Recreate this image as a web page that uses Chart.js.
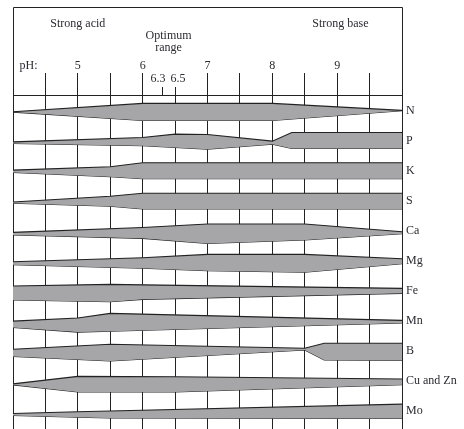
<!DOCTYPE html>
<html>
<head>
<meta charset="utf-8">
<script src="https://cdn.jsdelivr.net/npm/chart.js@4"></script>
<style>
  html, body { margin: 0; padding: 0; background: #fff; overflow: hidden; }
  #wrap { width: 464px; height: 429px; }
</style>
</head>
<body>
<div id="wrap"><canvas id="nutrientChart"></canvas></div>
<script>
// bands, top to bottom
const nutrients = ['N', 'P', 'K', 'S', 'Ca', 'Mg', 'Fe', 'Mn', 'B', 'Cu and Zn', 'Mo'];

// pH axis
const phLabels = [5, 6, 7, 8, 9];
const optimumTicks = [6.3, 6.5];

// for each band: pH break points, width above the band line, width below it
const nPH = [4, 6, 8, 10];
const nUp = [-1.2, 7.2, 7.2, 0.2];
const nDown = [1.5, 9.8, 9.8, 0.2];

const pPH = [4, 6, 6.5, 7, 8, 8.3, 10];
const pUp = [-1.2, 3.2, 6.5, 6.2, -0.5, 8.2, 8.2];
const pDown = [2.8, 5.1, 6.8, 8.5, 3.5, 7.8, 7.8];

const kPH = [4, 5.5, 6, 10];
const kUp = [0.6, 3.9, 7.9, 7.9];
const kDown = [1.7, 6.1, 8, 8];

const sPH = [4, 5.5, 6, 10];
const sUp = [-1.3, 4.5, 7.4, 7.4];
const sDown = [2.5, 5.5, 8.2, 8.2];

const caPH = [4, 6, 7, 8.5, 10];
const caUp = [-1.6, 3.2, 6.7, 6.7, -1];
const caDown = [4.3, 7.6, 12.6, 9.3, 3];

const mgPH = [4, 6, 7, 8.5, 10];
const mgUp = [-1, 3, 6.4, 6.4, 2];
const mgDown = [4, 7.5, 10, 11.5, 3];

const fePH = [4, 5.5, 6, 10];
const feUp = [4.8, 6.5, 6, 2.5];
const feDown = [9.2, 10.9, 8.5, 2.5];

const mnPH = [4, 5, 5.5, 10];
const mnUp = [-0.3, 2.8, 7.5, 0.5];
const mnDown = [6.5, 11.2, 10.3, 2.2];

const bPH = [4, 5.5, 8.5, 8.8, 10];
const bUp = [1.6, 6.6, 2.6, 7.6, 7.6];
const bDown = [5.5, 10.1, -0.9, 9, 9.5];

const cuznPH = [4, 5, 6.5, 10];
const cuznUp = [-2.9, 4.6, 4.2, 2];
const cuznDown = [3.9, 11, 11, 3.8];

const moPH = [4, 5, 5.5, 10];
const moUp = [-2.5, -0.7, 0, 6.8];
const moDown = [4.5, 6.2, 7, 7.5];

const bands = [
    [nPH, nUp, nDown], [pPH, pUp, pDown], [kPH, kUp, kDown], [sPH, sUp, sDown],
    [caPH, caUp, caDown], [mgPH, mgUp, mgDown], [fePH, feUp, feDown], [mnPH, mnUp, mnDown],
    [bPH, bUp, bDown], [cuznPH, cuznUp, cuznDown], [moPH, moUp, moDown]
];

const WIDTH_UNIT = 1 / 30;   // band width units per row
const INK = '#222222';
const TEXT = '#2a2a32';
const FILL = '#a6a6a9';
const FONT = '"Liberation Serif", "DejaVu Serif", serif';

let datasets = [];
bands.forEach(function (band, row) {
    const [ph, up, down] = band;
    datasets.push({
        data: ph.map((x, j) => ({ x: x, y: row - up[j] * WIDTH_UNIT })),
        borderColor: INK,
        borderWidth: 1.1,
        backgroundColor: FILL,
        pointRadius: 0,
        tension: 0,
        fill: '+1'
    });
    datasets.push({
        data: ph.map((x, j) => ({ x: x, y: row + down[j] * WIDTH_UNIT })),
        borderColor: INK,
        borderWidth: 1.1,
        pointRadius: 0,
        tension: 0,
        fill: false
    });
});

// frame, header text and the short 6.3 / 6.5 marks
const headerPlugin = {
    id: 'header',
    afterDraw(chart) {
        const ctx = chart.ctx;
        const x = chart.scales.x;
        const crisp = v => Math.round(v) + 0.5;
        const left = crisp(x.getPixelForValue(4));
        const right = crisp(x.getPixelForValue(10));
        const top = 7.5;
        const sep = chart.chartArea.top;

        ctx.save();
        ctx.strokeStyle = INK;
        ctx.lineWidth = 1;
        ctx.beginPath();
        ctx.moveTo(left, sep);
        ctx.lineTo(left, top);
        ctx.lineTo(right, top);
        ctx.lineTo(right, sep);
        optimumTicks.forEach(function (v) {
            const px = crisp(x.getPixelForValue(v));
            ctx.moveTo(px, sep - 8);
            ctx.lineTo(px, sep);
        });
        ctx.stroke();

        ctx.fillStyle = TEXT;
        ctx.font = '12px ' + FONT;
        ctx.textBaseline = 'middle';
        ctx.textAlign = 'center';
        ctx.fillText('Strong acid', x.getPixelForValue(5), 24);
        ctx.fillText('Strong base', x.getPixelForValue(9.05), 24);
        ctx.fillText('Optimum', x.getPixelForValue(6.4), 36);
        ctx.fillText('range', x.getPixelForValue(6.4), 48);
        ctx.fillText('6.3', x.getPixelForValue(6.3) - 4, 79);
        ctx.fillText('6.5', x.getPixelForValue(6.5) + 3, 79);
        ctx.textAlign = 'left';
        ctx.fillText('pH:', left + 6, 66);
        ctx.restore();
    }
};

new Chart(document.getElementById('nutrientChart'), {
    type: 'line',
    data: { datasets: datasets },
    options: {
        responsive: true,
        maintainAspectRatio: false,
        animation: false,
        layout: { padding: { left: 13, right: 0, top: 0, bottom: 0 } },
        plugins: {
            legend: { display: false },
            tooltip: { enabled: false }
        },
        scales: {
            x: {
                type: 'linear',
                position: 'top',
                min: 4,
                max: 10,
                z: 1,
                afterFit: function (scale) {
                    scale.height = 95;
                    scale.paddingLeft = 0;
                    scale.paddingRight = 0;
                },
                grid: {
                    color: INK,
                    lineWidth: 1,
                    tickLength: 22,
                    tickColor: ctx => (ctx.tick && optimumTicks.includes(ctx.tick.value)) ? 'rgba(0,0,0,0)' : INK
                },
                border: { display: true, color: INK, width: 1 },
                ticks: {
                    stepSize: 0.5,
                    autoSkip: false,
                    maxRotation: 0,
                    padding: 0,
                    color: TEXT,
                    font: { family: FONT, size: 12 },
                    callback: v => phLabels.includes(v) ? String(v) : ''
                }
            },
            y: {
                type: 'linear',
                position: 'right',
                reverse: true,
                min: -0.52,
                max: 10.6,
                afterBuildTicks: function (axis) {
                    axis.ticks = nutrients.map((name, i) => ({ value: i }));
                },
                afterFit: function (scale) {
                    scale.width = 62;
                    scale.paddingTop = 0;
                    scale.paddingBottom = 0;
                },
                grid: { display: false, drawTicks: false },
                border: { display: false },
                ticks: {
                    padding: 4,
                    color: TEXT,
                    font: { family: FONT, size: 12 },
                    callback: (v, i) => nutrients[i]
                }
            }
        }
    },
    plugins: [headerPlugin]
});
</script>
</body>
</html>
